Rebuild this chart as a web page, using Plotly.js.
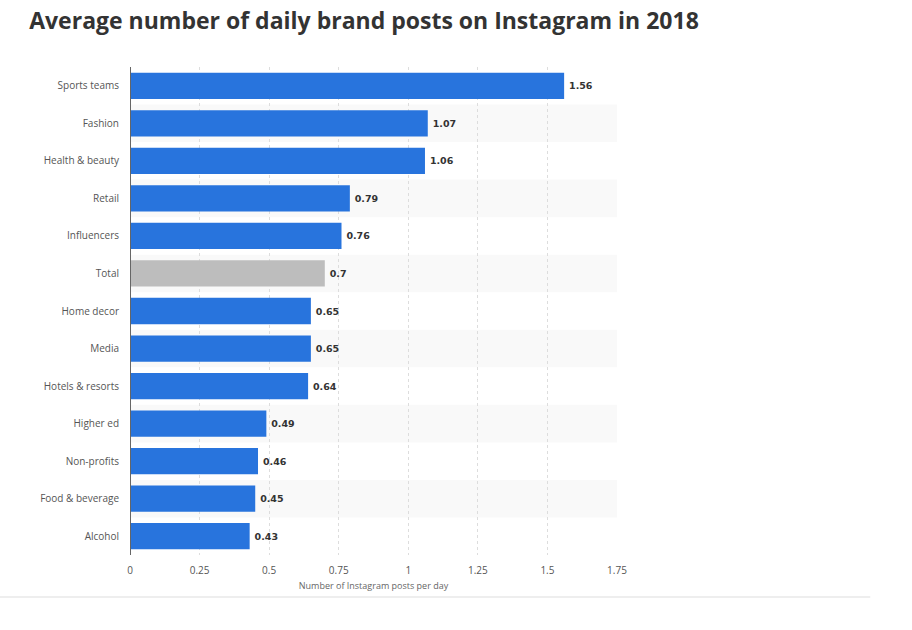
<!DOCTYPE html>
<html>
<head>
<meta charset="utf-8">
<script src="https://cdn.plot.ly/plotly-3.0.1.min.js"></script>
<style>html,body{margin:0;padding:0;background:#fff;}#chart{width:912px;height:630px;}</style>
</head>
<body>
<div id="chart"></div>
<script>
const categories = ["Sports teams","Fashion","Health & beauty","Retail","Influencers","Total","Home decor","Media","Hotels & resorts","Higher ed","Non-profits","Food & beverage","Alcohol"];
const values = [1.56,1.07,1.06,0.79,0.76,0.7,0.65,0.65,0.64,0.49,0.46,0.45,0.43];
const tickVals = [0,0.25,0.5,0.75,1,1.25,1.5,1.75];
const tickText = ["0","0.25","0.5","0.75","1","1.25","1.5","1.75"];

const colors = categories.map(c => c === "Total" ? "#bdbdbd" : "#2874dd");

const shapes = [];
categories.forEach((c, i) => {
  if (i % 2 === 1) {
    shapes.push({type:'rect', xref:'x', yref:'y', x0:0, x1:tickVals[tickVals.length-1],
      y0:i-0.5, y1:i+0.5, fillcolor:'#f9f9f9', line:{width:0}, layer:'below'});
  }
});
shapes.push({type:'line', xref:'paper', yref:'paper', x0:-0.269, x1:1.52, y0:-0.086, y1:-0.086,
  line:{color:'#eeeeee', width:2}});

const trace = {
  type:'bar', orientation:'h',
  y: categories.map((c,i)=>i), x: values,
  marker:{color:colors, line:{width:0}},
  width:0.7,
  text: values.map(v=>'\u2009' + String(v)),
  textposition:'outside',
  cliponaxis:false,
  textfont:{family:'DejaVu Sans, Verdana, sans-serif', size:9.5, color:'#333333', weight:'bold'},
  hoverinfo:'none'
};

const layout = {
  width:912, height:630,
  margin:{l:130, r:295, t:67, b:75},
  paper_bgcolor:'#fff', plot_bgcolor:'rgba(0,0,0,0)',
  title:{text:'<b>Average number of daily brand posts on Instagram in 2018</b>', x:0.032, xanchor:'left', y:0.967, yanchor:'middle',
    font:{family:'Open Sans, sans-serif', size:23, color:'#333333'}},
  showlegend:false,
  bargap:0.3,
  xaxis:{range:[0,1.75], tickvals:tickVals, ticktext:tickText, showgrid:true,
    gridcolor:'#dddddd', griddash:'dot', gridwidth:1, zeroline:false,
    tickfont:{family:'Open Sans, sans-serif', size:10, color:'#555555'},
    ticks:'', ticklabelstandoff:8, fixedrange:true,
    title:{text:'Number of Instagram posts per day', standoff:6, font:{family:'Open Sans, sans-serif', size:9, color:'#666666'}}},
  yaxis:{range:[12.5,-0.5], tickvals:categories.map((c,i)=>i), ticktext:categories,
    showgrid:false, zeroline:false, showline:false,
    tickfont:{family:'Open Sans, sans-serif', size:10, color:'#555555'},
    ticks:'', ticklabelstandoff:10, fixedrange:true},
  shapes:shapes.concat([{type:'line', xref:'x', yref:'paper', x0:0, x1:0, y0:0, y1:1, line:{color:'#666666', width:2}}]),
  font:{family:'Open Sans, sans-serif'}
};

Plotly.newPlot('chart',[trace],layout,{displayModeBar:false, staticPlot:true});
</script>
</body>
</html>
